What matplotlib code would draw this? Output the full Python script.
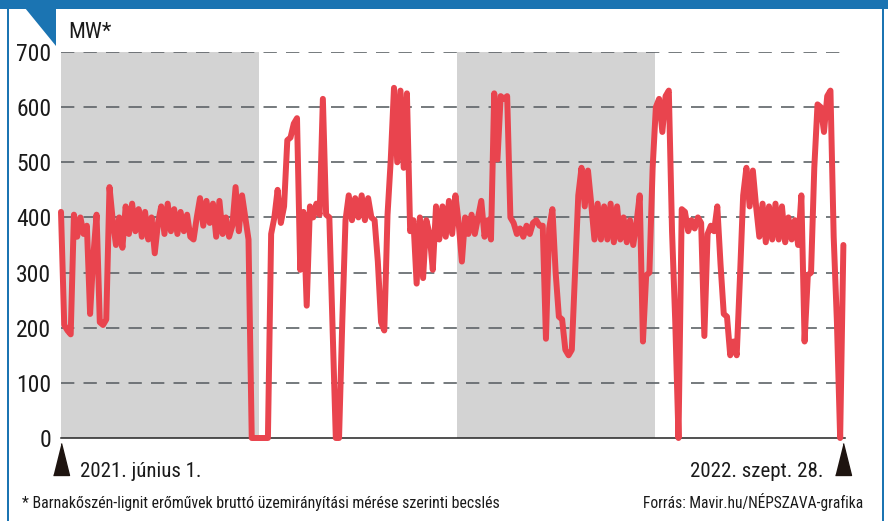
import matplotlib
matplotlib.use('Agg')
import matplotlib.pyplot as plt
import matplotlib.transforms as mtransforms
from matplotlib.patches import Polygon, Rectangle

# ── Data: days since 2021-06-01, sampled every 2 days (MW) ──
step_days = 2
mw = [
    410, 205, 195, 188, 405, 365, 400, 370, 385, 225,
    330, 405, 210, 205, 215, 455, 395, 350, 400, 345,
    420, 370, 425, 375, 415, 365, 410, 360, 400, 335,
    390, 420, 370, 425, 375, 415, 370, 410, 375, 405,
    365, 360, 400, 435, 385, 430, 390, 425, 365, 430,
    370, 400, 365, 385, 455, 375, 440, 400, 360, 0,
    0, 0, 0, 0, 0, 370, 400, 450, 390, 420,
    540, 545, 570, 580, 305, 410, 240, 420, 400, 425,
    405, 615, 405, 400, 200, 0, 0, 210, 395, 440,
    395, 435, 400, 440, 395, 435, 400, 395, 320, 210,
    195, 405, 505, 635, 500, 630, 490, 625, 375, 395,
    280, 400, 290, 395, 370, 305, 420, 360, 420, 365,
    430, 370, 440, 390, 320, 400, 370, 405, 370, 400,
    430, 365, 395, 360, 625, 505, 620, 615, 620, 400,
    390, 370, 380, 365, 385, 370, 390, 395, 385, 385,
    180, 380, 415, 300, 220, 215, 160, 150, 160, 300,
    440, 490, 420, 485, 425, 360, 425, 360, 420, 360,
    425, 355, 420, 360, 400, 355, 395, 350, 390, 440,
    175, 295, 300, 490, 600, 615, 555, 620, 630, 375,
    210, 0, 415, 410, 375, 395, 380, 400, 390, 185,
    370, 385, 375, 420, 315, 225, 220, 150, 175, 150,
    290, 440, 490, 420, 485, 420, 365, 425, 355, 420,
    360, 425, 360, 420, 355, 400, 360, 395, 350, 440,
    175, 295, 300, 490, 605, 600, 555, 620, 630, 365,
    210, 0, 350,
]
days = [i * step_days for i in range(len(mw))]

# shaded periods (days since 2021-06-01)
shade_start = [0, 245]
shade_end = [122.5, 367.5]

y_ticks = [0, 100, 200, 300, 400, 500, 600, 700]
start_label = "2021. június 1."
end_label = "2022. szept. 28."
unit_label = "MW*"
footnote = "* Barnakőszén-lignit erőművek bruttó üzemirányítási mérése szerinti becslés"
source = "Forrás: Mavir.hu/NÉPSZAVA-grafika"

# ── Style ──
FONT = ['Roboto Condensed', 'DejaVu Sans Condensed', 'Lato', 'DejaVu Sans']
plt.rcParams['font.family'] = FONT
RED = '#e9444e'
BLUE = '#1b74b2'
GREY = '#d3d3d3'
INK = '#1a1a1a'
W, H = 888, 521

fig = plt.figure(figsize=(W / 100, H / 100), dpi=100)
fig.patch.set_facecolor('white')

ax = fig.add_axes([61 / W, (H - 438) / H, (845 - 61) / W, 386 / H])
ax.set_xlim(0, 485)
ax.set_ylim(0, 700)

for s, e in zip(shade_start, shade_end):
    ax.axvspan(s, e, color=GREY, lw=0, zorder=0)

for y in y_ticks[1:]:
    ax.axhline(y, color='#5e6367', lw=1.2, ls=(0, (8, 5.5)), zorder=1)

ax.plot(days, mw, color=RED, lw=4.3, solid_joinstyle='round',
        solid_capstyle='round', zorder=3, clip_on=False)

for side in ['top', 'right', 'left']:
    ax.spines[side].set_visible(False)
ax.spines['bottom'].set_color('#222222')
ax.spines['bottom'].set_linewidth(1.1)
ax.spines['bottom'].set_zorder(2)
ax.set_xticks([])
ax.set_yticks(y_ticks)
ax.set_yticklabels([str(v) for v in y_ticks], fontsize=17, color=INK)
ax.tick_params(axis='y', length=0, pad=7)
ax.set_facecolor('none')

# start / end markers
blend = mtransforms.blended_transform_factory(ax.transData, ax.transAxes)
tri = [(-1, -2), (1, -2), (0, 2)]
ax.plot([days[0], days[-1]], [-0.054, -0.054], transform=blend, ls='none',
        marker=tri, markersize=23, color='#1e1410', clip_on=False)

# ── Texts ──
fig.text(80 / W, 1 - 477 / H, start_label, fontsize=15, color=INK, va='baseline')
fig.text(823 / W, 1 - 477 / H, end_label, fontsize=15, color=INK,
         va='baseline', ha='right')
fig.text(68 / W, 1 - 38 / H, unit_label, fontsize=16, color=INK, va='baseline')
fig.text(22 / W, 1 - 508 / H, footnote, fontsize=11.4, color=INK, va='baseline')
fig.text(863 / W, 1 - 508 / H, source, fontsize=11.2, color=INK,
         va='baseline', ha='right')

# ── Frame decoration ──
deco = fig.add_axes([0, 0, 1, 1], zorder=-1)
deco.set_xlim(0, W)
deco.set_ylim(H, 0)
deco.axis('off')
deco.add_patch(Rectangle((0, 0), W, 9, color=BLUE, lw=0))
deco.add_patch(Rectangle((7, 0), 2.2, H, color=BLUE, lw=0))
deco.add_patch(Rectangle((882, 0), 2.2, H, color=BLUE, lw=0))
deco.add_patch(Polygon([(25, 8), (56, 8), (56, 46)], closed=True, color=BLUE, lw=0))

fig.savefig('out.png', dpi=100, facecolor='white')
